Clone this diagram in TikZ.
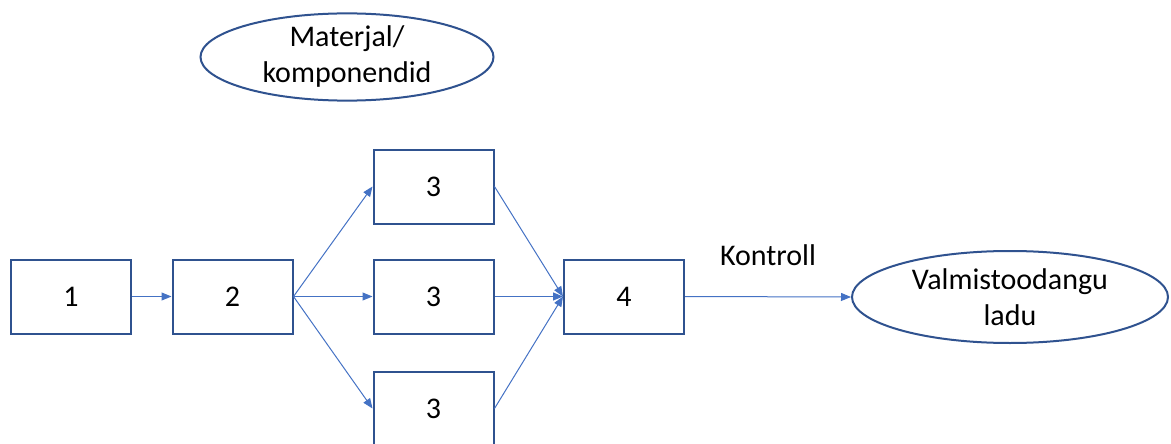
\documentclass[tikz,border=0pt]{standalone}
\usepackage{fontspec}
\setmainfont{Carlito}
\usetikzlibrary{shapes.geometric,arrows.meta}
\definecolor{boxc}{HTML}{2F528F}
\definecolor{arrc}{HTML}{4472C4}
\begin{document}
\begin{tikzpicture}[x=1pt,y=-1pt,
  stepbox/.style={draw=boxc,line width=2pt,fill=white,minimum width=120pt,minimum height=74pt,inner sep=0pt,font=\fontsize{30}{36}\selectfont},
  oval/.style={draw=boxc,line width=2pt,ellipse,inner sep=0pt,align=center,font=\fontsize{30}{36}\selectfont},
  conn/.style={draw=arrc,line width=1pt,-{Triangle[length=10pt,width=8pt]}},
  lbl/.style={font=\fontsize{30}{36}\selectfont}]
\useasboundingbox (0,0) rectangle (1171,444);
\node[oval,minimum width=293pt,minimum height=86pt] (mat) at (347,57) {Materjal/\\komponendid};
\node[stepbox] (b1) at (71,296.5) {1};
\node[stepbox] (b2) at (232.5,296.5) {2};
\node[stepbox] (b3a) at (433.5,186.5) {3};
\node[stepbox] (b3b) at (433.5,296.5) {3};
\node[stepbox] (b3c) at (433.5,408.5) {3};
\node[stepbox] (b4) at (624,296.5) {4};
\node[oval,minimum width=316pt,minimum height=92pt] (lad) at (1010,297) {Valmistoodangu\\ladu};
\node[lbl] (kon) at (768,255) {Kontroll};
\draw[conn] (b1.east) -- (b2.west);
\draw[conn] (b2.east) -- (b3a.west);
\draw[conn] (b2.east) -- (b3b.west);
\draw[conn] (b2.east) -- (b3c.west);
\draw[conn] (b3a.east) -- (b4.west);
\draw[conn] (b3b.east) -- (b4.west);
\draw[conn] (b3c.east) -- (b4.west);
\draw[conn] (b4.east) -- (lad.west);
\end{tikzpicture}
\end{document}
